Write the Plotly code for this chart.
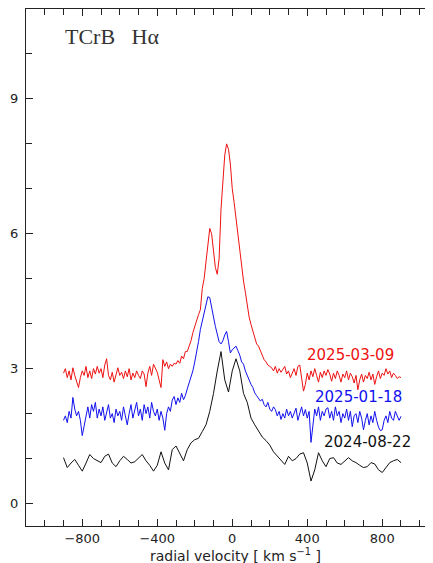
import plotly.graph_objects as go

# velocity grids (km/s)
vel_fine = list(range(-900, 901, 10))
vel_coarse = list(range(-900, 901, 20))

# 2025-03-09 (red), 10 km/s steps
flux_2025_03_09 = [
    2.90, 3.00, 2.80, 2.95, 2.75, 3.02, 2.85, 2.70, 2.58, 2.80,
    2.95, 2.85, 3.05, 2.80, 2.95, 2.78, 3.00, 2.88, 3.05, 2.90,
    3.00, 2.80, 3.08, 3.22, 2.85, 2.75, 2.92, 2.70, 2.88, 3.02,
    2.85, 2.92, 2.78, 2.95, 2.82, 3.00, 2.75, 2.90, 2.80, 2.95,
    2.85, 2.78, 2.95, 2.88, 2.60, 2.90, 3.05, 2.85, 3.10, 3.02,
    2.92, 2.75, 2.58, 3.20, 3.05, 3.15, 3.00, 3.10, 3.05, 3.12,
    3.10, 3.18, 3.12, 3.28, 3.22, 3.38, 3.38, 3.50, 3.62, 3.80,
    3.95, 4.08, 4.20, 4.31, 4.78, 5.00, 5.40, 5.72, 6.12, 6.00,
    5.60, 5.25, 5.10, 5.45, 6.55, 7.25, 7.75, 8.00, 7.88, 7.55,
    7.00, 6.70, 6.35, 6.05, 5.65, 5.25, 4.95, 4.70, 4.38, 4.15,
    3.98, 3.85, 3.72, 3.55, 3.50, 3.40, 3.30, 3.20, 3.15, 3.08,
    3.05, 3.02, 2.95, 3.05, 2.90, 3.00, 2.92, 2.98, 3.05, 2.88,
    2.95, 2.80, 2.90, 3.00, 2.85, 3.05, 3.08, 2.80, 2.50, 2.65,
    2.90, 2.75, 2.95, 2.82, 3.00, 2.85, 2.70, 2.92, 2.80, 2.95,
    2.85, 2.98, 2.88, 2.72, 2.90, 2.78, 2.95, 2.85, 2.70, 2.88,
    2.80, 2.95, 2.75, 2.90, 2.82, 2.68, 2.85, 2.53, 2.75, 2.88,
    2.70, 2.85, 2.78, 2.92, 2.75, 2.88, 2.65, 2.82, 2.95, 2.78,
    2.90, 2.85, 3.00, 2.88, 2.95, 2.80, 2.90, 2.85, 2.78, 2.82,
    2.80,
]

# 2025-01-18 (blue), 10 km/s steps
flux_2025_01_18 = [
    1.85, 1.95, 1.80, 2.05, 1.90, 2.36, 2.10, 1.95, 2.05, 1.85,
    1.51, 1.75, 1.95, 2.15, 1.90, 2.20, 2.05, 2.25, 1.90, 2.10,
    1.95, 2.15, 1.85, 2.05, 2.20, 1.90, 2.00, 1.80, 2.10, 1.95,
    2.05, 1.85, 2.15, 1.95, 1.75, 2.00, 2.20, 1.90, 2.05, 2.25,
    1.95, 2.10, 1.85, 2.20, 2.00, 2.15, 1.90, 2.25, 2.05, 1.95,
    2.10, 1.85, 2.05, 1.90, 1.63, 2.00, 2.15, 2.05, 2.30, 2.38,
    2.20, 2.35, 2.25, 2.45, 2.31, 2.40, 2.55, 2.68, 2.80, 2.95,
    3.15, 3.35, 3.60, 3.87, 4.05, 4.25, 4.45, 4.60, 4.58, 4.40,
    4.15, 3.94, 3.75, 3.60, 3.55, 3.62, 3.75, 3.83, 3.60, 3.35,
    3.42, 3.46, 3.50, 3.40, 3.30, 3.15, 3.10, 2.95, 2.85, 2.72,
    2.65, 2.58, 2.46, 2.40, 2.35, 2.28, 2.32, 2.20, 2.15, 2.25,
    2.10, 2.05, 2.15, 2.09, 1.95, 2.05, 1.87, 2.00, 1.90, 2.10,
    1.95, 2.05, 1.90, 2.02, 2.12, 1.85, 2.00, 2.15, 1.95, 2.09,
    1.90, 2.05, 1.36, 1.80, 2.10, 1.95, 2.15, 1.85, 2.05, 1.95,
    2.10, 2.13, 1.90, 2.05, 1.85, 2.15, 1.95, 2.05, 1.80, 2.00,
    1.90, 2.10, 1.85, 2.05, 1.71, 1.95, 2.00, 1.80, 2.05, 1.90,
    1.64, 1.85, 2.00, 1.75, 1.95, 1.80, 2.05, 1.85, 1.70, 1.62,
    1.64, 1.85, 1.95, 1.80, 2.05, 1.90, 1.85, 2.05, 1.95, 1.85,
    1.94,
]

# 2024-08-22 (black), 20 km/s steps
flux_2024_08_22 = [
    1.02, 0.80, 0.90, 0.98, 0.85, 0.72, 0.90, 1.09, 1.00, 0.95,
    0.91, 1.05, 1.10, 0.90, 0.82, 0.95, 1.05, 0.98, 0.90, 0.93,
    1.00, 1.09, 0.95, 0.85, 0.72, 0.85, 1.15, 0.90, 0.75, 1.20,
    1.28, 1.10, 0.95, 1.20, 1.35, 1.42, 1.45, 1.60, 1.75, 2.05,
    2.45, 2.95, 3.38, 2.75, 2.48, 2.95, 3.22, 2.95, 2.45, 2.25,
    1.90, 1.75, 1.61, 1.48, 1.40, 1.30, 1.15, 1.05, 0.95, 0.87,
    1.05, 0.95, 1.00, 1.10, 1.13, 0.90, 0.50, 0.75, 1.13, 0.95,
    0.82, 1.00, 1.02, 0.90, 0.87, 0.95, 1.02, 0.95, 0.91, 0.85,
    0.80, 0.82, 0.91, 0.88, 0.75, 0.69, 0.80, 0.91, 0.95, 0.98,
    0.91,
]

series = [
    ("2025-03-09", vel_fine, flux_2025_03_09, "#ee1111", 3.31, 875),
    ("2025-01-18", vel_fine, flux_2025_01_18, "#1111ee", 2.36, 917),
    ("2024-08-22", vel_coarse, flux_2024_08_22, "#111111", 1.36, 965),
]

fig = go.Figure()
for name, v, f, col, ly, lx in series:
    fig.add_trace(go.Scatter(x=v, y=f, mode="lines", name=name,
                             line=dict(color=col, width=1), showlegend=False))
    fig.add_annotation(x=lx, y=ly, xref="x", yref="y", text=name, showarrow=False,
                       xanchor="right", yanchor="middle",
                       font=dict(family="DejaVu Sans", size=15, color=col))

fig.add_annotation(x=0.091, y=0.946, xref="paper", yref="paper",
                   text="TCrB\u00a0\u00a0\u00a0H\u03b1", showarrow=False,
                   xanchor="left", yanchor="middle",
                   font=dict(family="Liberation Serif", size=22, color="#333333"))

fig.add_annotation(x=15, y=-0.056, xref="x", yref="paper",
                   text="radial velocity [ km s<sup>\u22121</sup> ]", showarrow=False,
                   xanchor="center", yanchor="middle",
                   font=dict(family="DejaVu Sans", size=14, color="#222222"))

axis_common = dict(showline=True, linecolor="#222222", linewidth=1, mirror="allticks",
                   ticks="inside", ticklen=7, tickcolor="#222222", showgrid=False,
                   zeroline=False, automargin=False,
                   tickfont=dict(family="DejaVu Sans", size=13, color="#222222"))

fig.update_xaxes(range=[-1100, 1070.7], tick0=0, dtick=400,
                 minor=dict(dtick=100, ticks="inside", ticklen=6, tickcolor="#222222", showgrid=False),
                 **axis_common)
fig.update_yaxes(range=[-0.5, 11], tick0=0, dtick=3,
                 minor=dict(dtick=1, ticks="inside", ticklen=6, tickcolor="#222222", showgrid=False),
                 ticklabelstandoff=4,
                 **axis_common)

# the page body adds an 8 px offset, so the figure is 8 px smaller than the window
fig.update_layout(width=425, height=555, margin=dict(l=18, r=0, t=1, b=37, autoexpand=False),
                  paper_bgcolor="white", plot_bgcolor="white")

fig.write_html("out.html")
